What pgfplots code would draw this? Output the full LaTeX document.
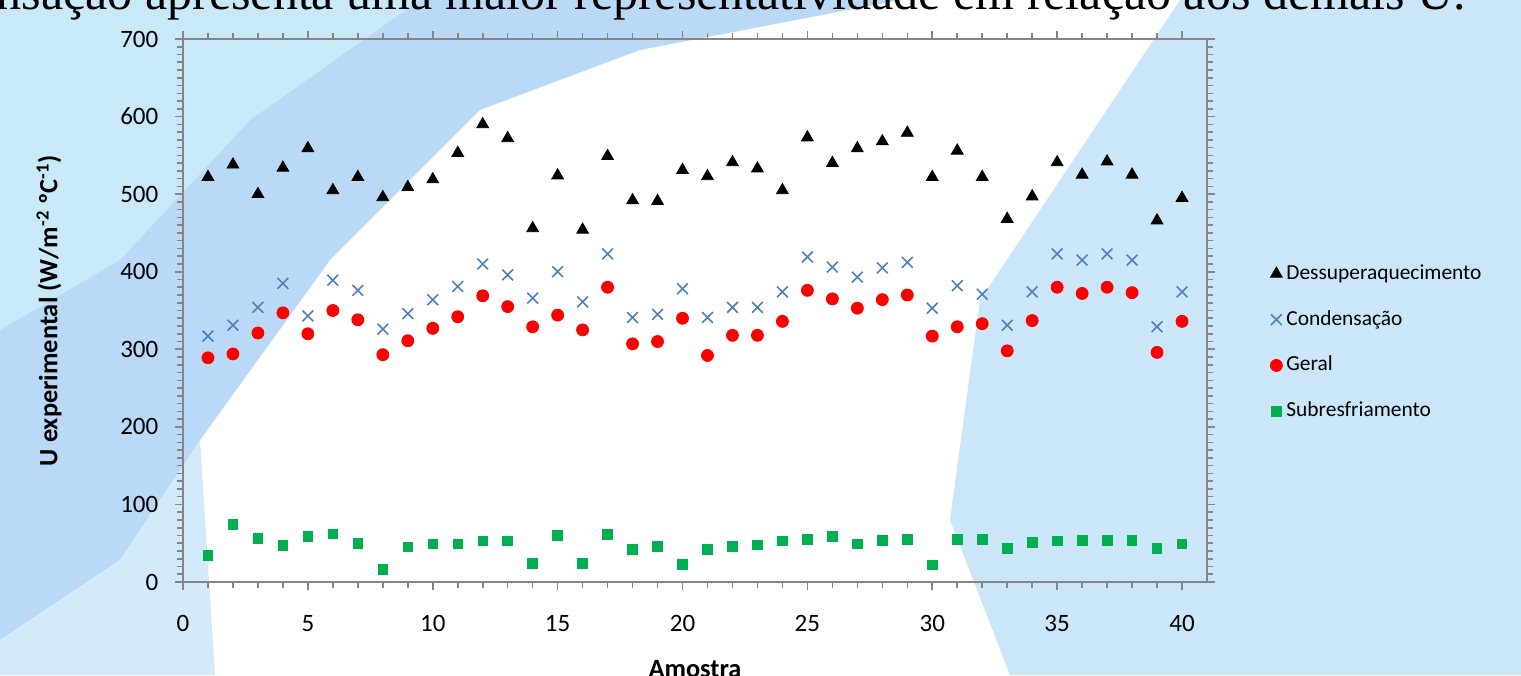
\documentclass[border=0pt]{standalone}
\usepackage{fontspec}
\setmainfont{Carlito}
\newfontfamily\timesfont{Liberation Serif}
\usepackage{pgfplots}
\usepackage{pgfplotstable}
\pgfplotsset{compat=1.18}
\definecolor{axisgray}{HTML}{868686}
\definecolor{crossblue}{HTML}{4F81BD}
\definecolor{ptred}{HTML}{FF0000}
\definecolor{ptgreen}{HTML}{00B050}
\definecolor{bgblue}{HTML}{BAD9F6}
\definecolor{bgcyan}{HTML}{C9E9F9}
\definecolor{bglight}{HTML}{D2EAF9}
\definecolor{bgright}{HTML}{CAE6F8}

\pgfplotstableread{
x d c g s
1 522 317 289 34
2 538 331 294 74
3 500 354 321 56
4 534 385 347 47
5 559 343 320 59
6 505 389 350 62
7 522 376 338 50
8 496 326 293 16
9 509 346 311 45
10 519 364 327 49
11 553 381 342 49
12 590 410 369 53
13 572 396 355 53
14 456 366 329 24
15 524 400 344 60
16 454 361 325 24
17 549 423 380 61
18 492 341 307 42
19 491 345 310 46
20 531 378 340 23
21 523 341 292 42
22 541 354 318 46
23 533 354 318 48
24 505 374 336 53
25 573 419 376 55
26 540 406 365 59
27 559 393 353 49
28 568 405 364 54
29 579 412 370 55
30 522 353 317 22
31 556 382 329 55
32 522 371 333 55
33 468 331 298 43
34 497 374 337 51
35 541 423 380 53
36 525 415 372 54
37 542 423 380 54
38 525 415 373 54
39 466 329 296 43
40 495 374 336 49
}\datatable

\begin{document}
\begin{tikzpicture}
\useasboundingbox (0,0) rectangle (760.5pt,337.5pt);
\clip (0,0) rectangle (760.5pt,337.5pt);
\begin{scope}[x=0.5pt,y=-0.5pt,yshift=337.5pt]
  \fill[white] (0,0) rectangle (1521,675);
  \fill[bgblue] (0,0) -- (900,0) -- (640,50) -- (480,110) -- (330,260) -- (200,440) -- (120,560) -- (0,640) -- cycle;
  \fill[bgcyan] (0,0) -- (420,0) -- (250,120) -- (120,260) -- (0,330) -- cycle;
  \fill[bglight] (0,640) -- (120,560) -- (200,440) -- (215,675) -- (0,675) -- cycle;
  \fill[bgright] (1010,675) -- (950,520) -- (980,300) -- (1060,180) -- (1180,0) -- (1521,0) -- (1521,675) -- cycle;
  \node[anchor=base east, inner sep=0pt, font=\timesfont\fontsize{25}{30}\selectfont] at (1466,10)
    {condensação apresenta uma maior representatividade em relação aos demais U.};
\end{scope}
\begin{axis}[
  at={(91.5pt,46.5pt)}, anchor=south west,
  scale only axis, width=512pt, height=271.5pt,
  xmin=0, xmax=41, ymin=0, ymax=700,
  xtick={0,5,...,40}, ytick={0,100,...,700},
  minor x tick num=4, minor y tick num=9,
  axis line style={draw=axisgray, line width=1pt},
  tick style={draw=axisgray, line width=0.8pt},
  tick align=outside,
  major tick length=4pt, minor tick length=3pt,
  tick label style={font=\fontsize{12.5}{15}\selectfont},
  /pgf/number format/assume math mode=true,
  yticklabel shift=4.8pt,
  xticklabel shift=9.3pt,
  xlabel={Amostra},
  ylabel={U experimental (W/m\textsuperscript{-2} ºC\textsuperscript{-1})},
  label style={font=\fontsize{13.2}{16}\selectfont\bfseries},
  xlabel style={at={(axis description cs:0.5,0)}, anchor=north, yshift=-35.8pt},
  ylabel style={at={(axis description cs:-0.1309,0.5)}, anchor=center},
  legend style={draw=none, fill=none, at={(1.0615,0.441)}, anchor=west, inner sep=0pt,
    row sep=8.4pt, font=\fontsize{10.7}{13}\selectfont, nodes={text height=8pt, text depth=2.5pt}},
  legend cell align=left,
  legend image code/.code={\draw[#1] plot coordinates {(0pt,0pt)};},
]
\addplot[only marks, mark=triangle*, mark size=3.4pt, mark options={fill=black, draw=black}] table[x=x,y=d] {\datatable};
\addlegendentry{Dessuperaquecimento}
\addplot[only marks, mark=x, mark size=3.8pt, mark options={draw=crossblue, line width=0.8pt}] table[x=x,y=c] {\datatable};
\addlegendentry{Condensação}
\addplot[only marks, mark=*, mark size=3pt, mark options={fill=ptred, draw=ptred}] table[x=x,y=g] {\datatable};
\addlegendentry{Geral}
\addplot[only marks, mark=square*, mark size=2.4pt, mark options={fill=ptgreen, draw=ptgreen}] table[x=x,y=s] {\datatable};
\addlegendentry{Subresfriamento}
\end{axis}
\end{tikzpicture}
\end{document}
